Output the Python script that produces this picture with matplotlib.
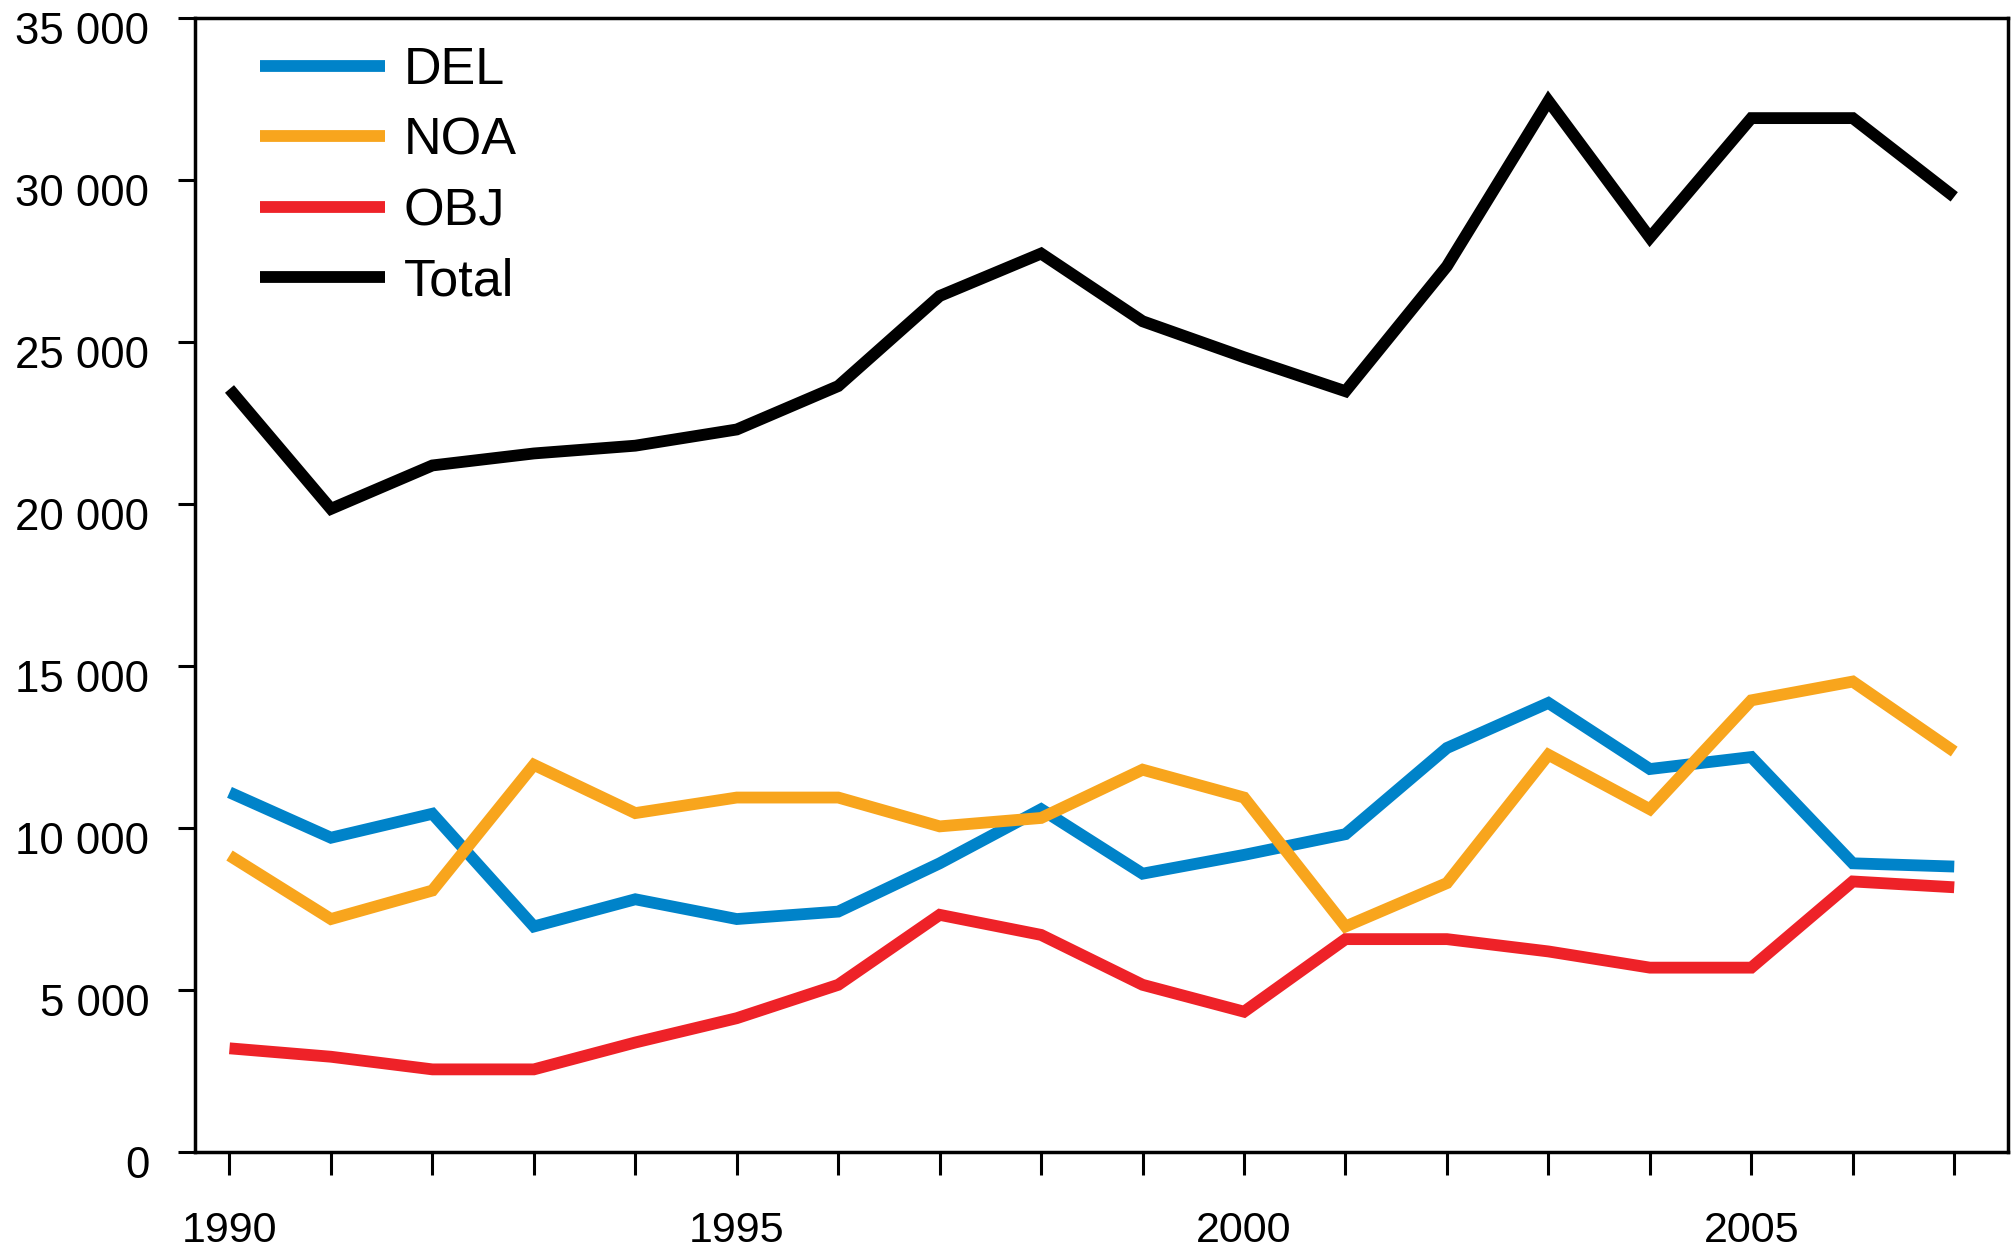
import matplotlib
matplotlib.use("Agg")
import matplotlib.pyplot as plt
from matplotlib.transforms import ScaledTranslation

plt.rcParams['font.family'] = ['Liberation Sans', 'DejaVu Sans']

years = list(range(1990, 2008))
DEL = [11100, 9700, 10440, 6960, 7800, 7190, 7420, 8910, 10580, 8590,
       9170, 9810, 12470, 13860, 11820, 12190, 8910, 8810]
NOA = [9150, 7190, 8070, 11950, 10460, 10940, 10940, 10050, 10310, 11800,
       10940, 6960, 8300, 12260, 10580, 13940, 14520, 12360]
OBJ = [3200, 2940, 2550, 2550, 3380, 4130, 5160, 7320, 6700, 5160,
       4330, 6570, 6570, 6190, 5690, 5690, 8350, 8170]
Total = [23550, 19850, 21190, 21560, 21800, 22300, 23640, 26420, 27730, 25640,
         24530, 23480, 27340, 32440, 28220, 31910, 31910, 29480]

series_names = ["DEL", "NOA", "OBJ", "Total"]
series_colors = ["#0083C9", "#F8A51D", "#EE2228", "#000000"]

y_ticks = [0, 5000, 10000, 15000, 20000, 25000, 30000, 35000]
y_labels = ["0", "5 000", "10 000", "15 000", "20 000", "25 000", "30 000", "35 000"]
x_label_years = [1990, 1995, 2000, 2005]

W, H = 2012, 1249
fig = plt.figure(figsize=(W / 100, H / 100), dpi=100)
ax = fig.add_axes([195 / W, 1 - 1152 / H, (2008 - 195) / W, (1152 - 18) / H])

for name, vals, col in zip(series_names, [DEL, NOA, OBJ, Total], series_colors):
    ax.plot(years, vals, color=col, lw=8.5, label=name,
            solid_joinstyle='miter', solid_capstyle='butt')

ax.set_xlim(1989.66, 2007.53)
ax.set_ylim(0, 35000)

ax.set_yticks(y_ticks)
ax.set_yticklabels(y_labels)
ax.set_xticks(years)
ax.set_xticklabels([str(y) if y in x_label_years else "" for y in years])

ax.tick_params(axis='y', direction='out', length=12, width=2.2, pad=21, labelsize=31.5)
ax.tick_params(axis='x', direction='out', length=16.5, width=2.2, pad=26, labelsize=31)

for lab in ax.get_yticklabels():
    lab.set_transform(lab.get_transform() + ScaledTranslation(0, -10 / 100, fig.dpi_scale_trans))

for sp in ax.spines.values():
    sp.set_linewidth(2.5)
    sp.set_color('black')

leg = ax.legend(loc='upper left', bbox_to_anchor=(0.0356, 0.975), frameon=False,
                fontsize=37.5, handlelength=2.4, handletextpad=0.37,
                labelspacing=0.41, borderpad=0, borderaxespad=0)
for h in leg.get_lines():
    h.set_linewidth(8.5)
    h.set_solid_capstyle('butt')

fig.savefig("out.png", dpi=100)
